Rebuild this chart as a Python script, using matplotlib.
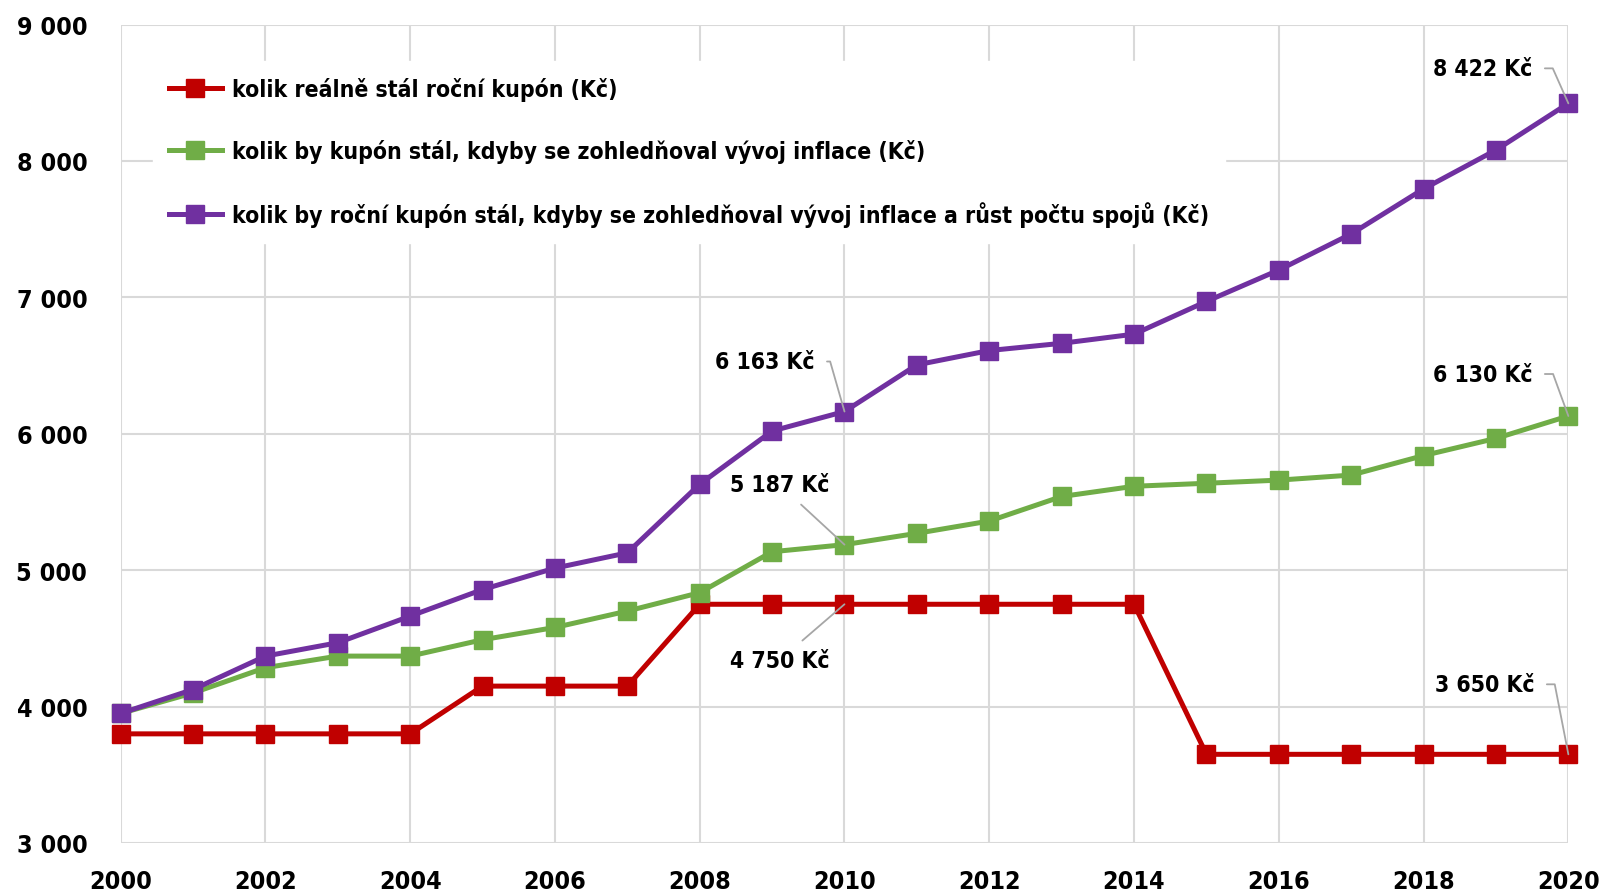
#! /usr/bin/env python3

import matplotlib
matplotlib.use("Agg")
import matplotlib.pyplot as plt
from matplotlib.ticker import FuncFormatter, MultipleLocator

# data
years = list(range(2000, 2021))
real_price = [3800, 3800, 3800, 3800, 3800, 4150, 4150, 4150, 4750, 4750,
              4750, 4750, 4750, 4750, 4750, 3650, 3650, 3650, 3650, 3650, 3650]
inflation_price = [3950, 4100, 4285, 4370, 4370, 4490, 4580, 4700, 4835, 5135,
                   5187, 5270, 5360, 5540, 5615, 5637, 5660, 5697, 5840, 5966, 6130]
inflation_conn_price = [3950, 4125, 4370, 4468, 4663, 4858, 5015, 5127, 5630, 6020,
                        6163, 6505, 6610, 6663, 6730, 6970, 7200, 7465, 7795, 8080, 8422]

labels = ["kolik reálně stál roční kupón (Kč)",
          "kolik by kupón stál, kdyby se zohledňoval vývoj inflace (Kč)",
          "kolik by roční kupón stál, kdyby se zohledňoval vývoj inflace a růst počtu spojů (Kč)"]
colors = ["#C00000", "#70AD47", "#7030A0"]

plt.rcParams['font.family'] = ['DejaVu Sans']
plt.rcParams['font.stretch'] = 'condensed'
plt.rcParams['font.weight'] = 'bold'
FS = 18      # tick labels
FS_TXT = 16.5  # legend and value labels


def thousands(v, pos):
    return f"{int(v):,}".replace(",", " ")


def main():
    fig = plt.figure(figsize=(16.02, 8.95), dpi=100)
    ax = fig.add_axes([0.0753, 0.057, 0.9037, 0.9145])

    series = [real_price, inflation_price, inflation_conn_price]
    for vals, lab, col in zip(series, labels, colors):
        ax.plot(years, vals, color=col, lw=3.6, marker='s', markersize=13,
                label=lab, clip_on=False, zorder=3)

    ax.set_xlim(2000, 2020)
    ax.set_ylim(3000, 9000)
    ax.xaxis.set_major_locator(MultipleLocator(2))
    ax.yaxis.set_major_locator(MultipleLocator(1000))
    ax.yaxis.set_major_formatter(FuncFormatter(thousands))
    ax.grid(True, color='#D9D9D9', lw=1.5, zorder=0)
    for s in ax.spines.values():
        s.set_visible(False)
    ax.tick_params(length=0, labelsize=FS)
    ax.tick_params(axis='y', pad=24)
    ax.tick_params(axis='x', pad=19)
    for t in ax.get_xticklabels() + ax.get_yticklabels():
        t.set_fontweight('bold')

    leg = ax.legend(loc='upper left', bbox_to_anchor=(0.0224, 0.9555),
                    borderaxespad=0, frameon=True, fancybox=False,
                    fontsize=FS_TXT, labelspacing=1.66, handlelength=2.3,
                    handletextpad=0.45, borderpad=0.7)
    leg.get_frame().set_facecolor('white')
    leg.get_frame().set_edgecolor('white')
    leg.get_frame().set_alpha(1)
    leg.set_zorder(2)

    lead = '#A6A6A6'
    # labels with a short horizontal stub then a slanted leader
    angled = [(2020, inflation_conn_price[20], "8 422 Kč", -36, 35, 114),
              (2020, inflation_price[20], "6 130 Kč", -36, 42, 110),
              (2020, real_price[20], "3 650 Kč", -34, 70, 101),
              (2010, inflation_conn_price[10], "6 163 Kč", -30, 50, 106)]
    for x, y, txt, dx, dy, angB in angled:
        ax.annotate(txt, xy=(x, y), xytext=(dx, dy), textcoords='offset pixels',
                    ha='right', va='center', fontsize=FS_TXT, fontweight='bold',
                    annotation_clip=False,
                    arrowprops=dict(arrowstyle='-', color=lead, lw=1.3,
                                    relpos=(1, 0.5), shrinkA=7, shrinkB=0,
                                    connectionstyle=f"angle,angleA=0,angleB={angB},rad=0"))
    # labels with a straight leader
    straight = [(2010, inflation_price[10], "5 187 Kč", -65, 60),
                (2010, real_price[10], "4 750 Kč", -65, -56)]
    for x, y, txt, dx, dy in straight:
        ax.annotate(txt, xy=(x, y), xytext=(dx, dy), textcoords='offset pixels',
                    ha='center', va='center', fontsize=FS_TXT, fontweight='bold',
                    arrowprops=dict(arrowstyle='-', color=lead, lw=1.3,
                                    shrinkA=6, shrinkB=0))

    fig.savefig("out.png", dpi=100)


if __name__ == "__main__":
    main()
